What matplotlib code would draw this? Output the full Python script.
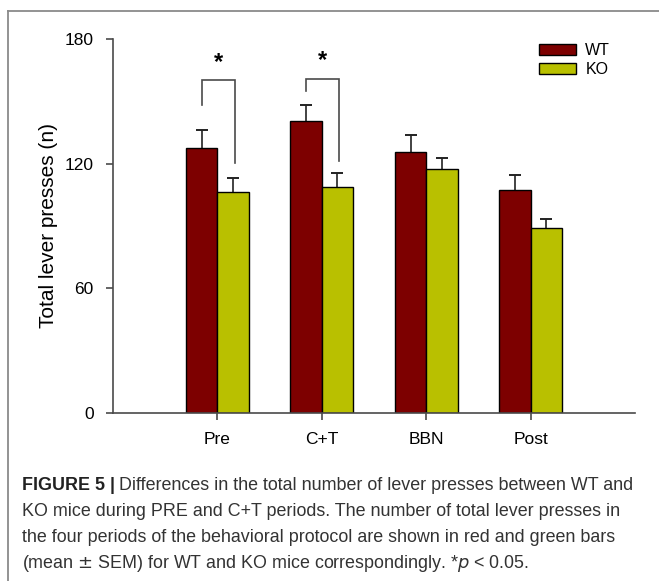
import numpy as np
import matplotlib.pyplot as plt
from matplotlib.lines import Line2D

plt.rcParams['font.family'] = ['Liberation Sans', 'DejaVu Sans']

# data
periods = ['Pre', 'C+T', 'BBN', 'Post']
wt_mean = [127.4, 140.5, 125.6, 107.2]
wt_sem = [8.7, 7.6, 8.0, 7.2]
ko_mean = [106.2, 108.6, 117.3, 89.2]
ko_sem = [7.0, 6.9, 5.6, 4.3]

# significance brackets (group index, top, left leg bottom, right leg bottom)
sig_groups = [0, 1]
sig_top = [160.3, 160.9]
sig_left_low = [148.2, 155.1]
sig_right_low = [120.5, 121.4]

wt_color = '#7d0000'
ko_color = '#b9c000'
axis_color = '#4a4a4a'

fig = plt.figure(figsize=(6.59, 5.81), dpi=100)
ax = fig.add_axes([113 / 659, 1 - 413 / 581, 522 / 659, 374 / 581])

x = np.arange(len(periods))
w = 0.30
ax.bar(x - w / 2, wt_mean, w, color=wt_color, edgecolor='black', linewidth=1.0, label='WT', zorder=2)
ax.bar(x + w / 2, ko_mean, w, color=ko_color, edgecolor='black', linewidth=1.0, label='KO', zorder=2)
# upward-only error bars
for xs, m, e in [(x - w / 2, wt_mean, wt_sem), (x + w / 2, ko_mean, ko_sem)]:
    ax.errorbar(xs, np.array(m) + np.array(e), yerr=[e, np.zeros(4)], fmt='none', ecolor='#222222',
                elinewidth=1.2, capsize=0, zorder=1)
    ax.errorbar(xs, np.array(m) + np.array(e), yerr=[np.zeros(4), np.zeros(4)], fmt='none',
                ecolor='#222222', elinewidth=0, capsize=4.5, capthick=1.2, zorder=1)

# brackets + stars
for g, top, lo_l, lo_r in zip(sig_groups, sig_top, sig_left_low, sig_right_low):
    xl, xr = g - w / 2, g + w / 2 + 0.015
    ax.plot([xl, xl, xr, xr], [lo_l, top, top, lo_r], color=axis_color, lw=1.2,
            solid_joinstyle='miter', clip_on=False)
    ax.text((xl + xr) / 2, top + 3, '*', ha='center', va='bottom', fontsize=17,
            fontweight='bold', color='black')

ax.set_xlim(-1, 4)
ax.set_ylim(0, 180)
ax.set_yticks([0, 60, 120, 180])
ax.set_xticks(x)
ax.set_xticklabels(periods)
ax.tick_params(axis='both', labelsize=12.5, color=axis_color, length=5, width=1.2)
ax.tick_params(axis='y', pad=9)
ax.tick_params(axis='x', pad=9)
for s in ['top', 'right']:
    ax.spines[s].set_visible(False)
for s in ['left', 'bottom']:
    ax.spines[s].set_color(axis_color)
    ax.spines[s].set_linewidth(1.2)
ax.set_ylabel('Total lever presses (n)', fontsize=15, labelpad=5)

leg = ax.legend(loc='upper left', bbox_to_anchor=(539 / 659, 1 - 43 / 581), bbox_transform=fig.transFigure,
                frameon=False, fontsize=11.5, handlelength=2.3, handleheight=0.75,
                handletextpad=0.6, labelspacing=0.25, borderpad=0, borderaxespad=0)

# frame lines
fig.add_artist(Line2D([8 / 659, 8 / 659], [0, 1 - 11 / 581], color='#8a8a8a', lw=1.3))
fig.add_artist(Line2D([8 / 659, 1], [1 - 11 / 581, 1 - 11 / 581], color='#8a8a8a', lw=1.3))

# caption
cap_lines = [
    'Differences in the total number of lever presses between WT and',
    'KO mice during PRE and C+T periods. The number of total lever presses in',
    'the four periods of the behavioral protocol are shown in red and green bars',
    '(mean $\\pm$ SEM) for WT and KO mice correspondingly. *$p$ < 0.05.',
]
t = fig.text(22 / 659, 1 - 486 / 581, 'FIGURE 5 |', fontsize=12.9, fontweight='bold',
             va='center', ha='left', color='#222222')
fig.canvas.draw()
bb = t.get_window_extent()
fig.text(bb.x1 / 659 + 4 / 659, 1 - 486 / 581, cap_lines[0], fontsize=12.9, va='center',
         ha='left', color='#333333')
for i, line in enumerate(cap_lines[1:]):
    fig.text(22 / 659, 1 - (512 + 25.5 * i) / 581, line, fontsize=12.9, va='center',
             ha='left', color='#333333')

fig.savefig('out.png', dpi=100)
